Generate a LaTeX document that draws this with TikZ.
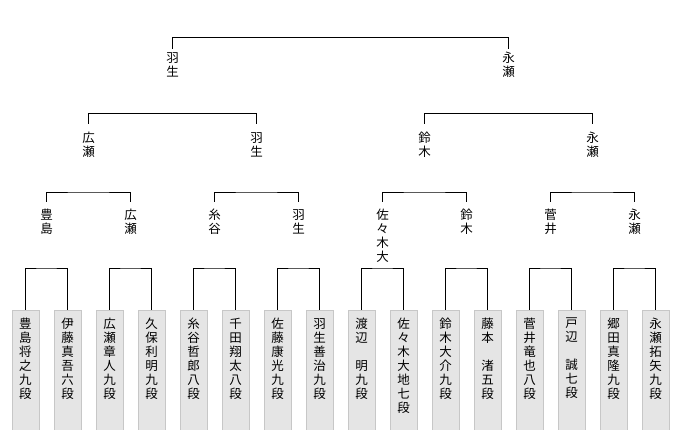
\documentclass[tikz,border=0pt]{standalone}
\usepackage{fontspec}
\setmainfont{Noto Sans CJK JP}
\begin{document}
\begin{tikzpicture}[x=1pt,y=-1pt,
  lab/.style={inner sep=0pt,align=center,font=\fontsize{12.5}{14}\selectfont,anchor=north},
  box/.style={fill=black!10,draw=black!22,minimum width=27pt,minimum height=125pt,anchor=north,inner sep=0pt},
  ln/.style={draw=black,line width=0.7pt}]
\useasboundingbox (0,0) rectangle (680,430);
% bottom boxes
\foreach \i/\t in {0/豊\\島\\将\\之\\九\\段,1/伊\\藤\\真\\吾\\六\\段,2/広\\瀬\\章\\人\\九\\段,3/久\\保\\利\\明\\九\\段,4/糸\\谷\\哲\\郎\\八\\段,5/千\\田\\翔\\太\\八\\段,6/佐\\藤\\康\\光\\九\\段,7/羽\\生\\善\\治\\九\\段,8/渡\\辺\\　\\明\\九\\段,9/佐\\々\\木\\大\\地\\七\\段,10/鈴\\木\\大\\介\\九\\段,11/藤\\本\\　\\渚\\五\\段,12/菅\\井\\竜\\也\\八\\段,13/戸\\辺\\　\\誠\\七\\段,14/郷\\田\\真\\隆\\九\\段,15/永\\瀬\\拓\\矢\\九\\段}{
  \node[box] (b\i) at ({25.5+42*\i},310) {};
  \node[lab] (t\i) at ({25.5+42*\i},318) {\t};
}
% quarter labels
\foreach \i/\t in {0/豊\\島,1/広\\瀬,2/糸\\谷,3/羽\\生,4/佐\\々\\木\\大,5/鈴\\木,6/菅\\井,7/永\\瀬}{
  \node[lab] (q\i) at ({46.5+84*\i},209) {\t};
  \coordinate (qb\i) at ({46.5+84*\i},268);
  \coordinate (qt\i) at ({46.5+84*\i},202);
}
\foreach \i in {0,...,7}{
  \pgfmathtruncatemacro\a{2*\i}\pgfmathtruncatemacro\b{2*\i+1}
  \draw[ln] (b\a.north) |- (qb\i) -| (b\b.north);
}
% semi labels
\foreach \i/\t in {0/広\\瀬,1/羽\\生,2/鈴\\木,3/永\\瀬}{
  \node[lab] (s\i) at ({88.5+168*\i},132) {\t};
  \coordinate (sb\i) at ({88.5+168*\i},192);
  \coordinate (st\i) at ({88.5+168*\i},124);
}
\foreach \i in {0,...,3}{
  \pgfmathtruncatemacro\a{2*\i}\pgfmathtruncatemacro\b{2*\i+1}
  \draw[ln] (qt\a) |- (sb\i) -| (qt\b);
}
% final labels
\node[lab] (f0) at (172.5,52) {羽\\生};
\node[lab] (f1) at (508.5,52) {永\\瀬};
\coordinate (ft0) at (172.5,49);
\coordinate (ft1) at (508.5,49);
\draw[ln] (st0) -- ++(0,-11) -| (st1);
\draw[ln] (st2) -- ++(0,-11) -| (st3);
\draw[ln] (ft0) -- ++(0,-12) -| (ft1);
\end{tikzpicture}
\end{document}
